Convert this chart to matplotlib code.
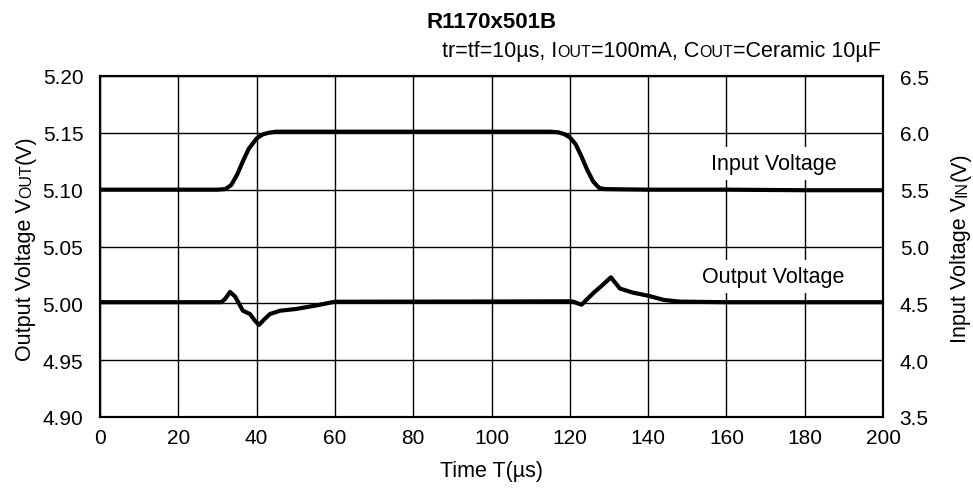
import numpy as np
import matplotlib.pyplot as plt
from matplotlib.transforms import IdentityTransform

plt.rcParams['font.family'] = ['Liberation Sans', 'DejaVu Sans']

# input voltage (right axis, V) vs time (us)
t_in = [0, 30, 32, 33.5, 35, 36.5, 38, 40, 41.5, 43, 45, 60, 80, 100, 115, 117,
        118.5, 120, 121.5, 123, 124.5, 126, 127.5, 129, 140, 160, 180, 200]
v_in = [5.50, 5.50, 5.505, 5.54, 5.63, 5.75, 5.86, 5.95, 5.985, 6.0, 6.01, 6.01,
        6.01, 6.01, 6.01, 6.005, 5.99, 5.96, 5.90, 5.79, 5.67, 5.57, 5.515, 5.505,
        5.50, 5.50, 5.495, 5.495]

# output voltage (left axis, V)
t_out = [0, 31, 32, 33.2, 34.5, 36.5, 38.3, 39.5, 40.6, 42, 43.4, 46, 50, 55, 60,
         80, 100, 120, 120.8, 123, 126, 128, 130.5, 132.8, 136, 140, 144, 148,
         160, 180, 200]
v_out = [5.001, 5.001, 5.004, 5.010, 5.006, 4.9935, 4.9906, 4.985, 4.981, 4.986,
         4.9906, 4.9935, 4.995, 4.998, 5.0014, 5.0015, 5.0016, 5.0018, 5.0015,
         4.9988, 5.009, 5.015, 5.0229, 5.013, 5.0095, 5.0067, 5.003, 5.0015,
         5.001, 5.001, 5.001]

x_ticks = np.arange(0, 201, 20)
left_ticks = [4.90, 4.95, 5.00, 5.05, 5.10, 5.15, 5.20]
right_ticks = [3.5, 4.0, 4.5, 5.0, 5.5, 6.0, 6.5]

W, H = 973, 489
fig = plt.figure(figsize=(W / 100, H / 100), dpi=100)
L, R, T, B = 100, 883, 77, 418
ax = fig.add_axes([L / W, (H - B) / H, (R - L) / W, (B - T) / H])
ax2 = ax.twinx()

ax.set_xlim(0, 200)
ax.set_ylim(4.90, 5.20)
ax2.set_ylim(3.5, 6.5)
ax.set_xticks(x_ticks)
ax.set_yticks(left_ticks)
ax.set_yticklabels(['%.2f' % v for v in left_ticks])
ax2.set_yticks(right_ticks)
ax2.set_yticklabels(['%.1f' % v for v in right_ticks])
ax.grid(True, color='black', linewidth=1.0)
ax.tick_params(length=0, labelsize=15, pad=12)
ax.tick_params(axis='x', pad=8)
ax2.tick_params(length=0, labelsize=15, pad=12)
for a in (ax, ax2):
    for s in a.spines.values():
        s.set_linewidth(1.5)

ax.plot(t_out, v_out, color='black', linewidth=3)
ax2.plot(t_in, v_in, color='black', linewidth=3, zorder=3)

bb = dict(facecolor='white', edgecolor='none', pad=4)
ax2.text(172, 5.682, 'Input Voltage', fontsize=15.5, ha='center',
         va='baseline', bbox=bb, zorder=2)
ax2.text(172, 4.688, 'Output Voltage', fontsize=15.5, ha='center',
         va='baseline', bbox=bb, zorder=2)

ax.set_xlabel('Time T(µs)', fontsize=15.5, labelpad=9)
fig.text((L + R) / 2 / W, 1 - 22 / H, 'R1170x501B', fontsize=16,
         fontweight='bold', ha='center', va='center')

renderer = fig.canvas.get_renderer()


def rich_text(x, y, parts, rotation=0, align='right'):
    # parts drawn one after another along the baseline, in figure pixels
    arts = []
    for s, size in parts:
        t = fig.text(0, 0, s, fontsize=size, rotation=rotation,
                     rotation_mode='anchor', ha='left', va='baseline',
                     transform=IdentityTransform())
        arts.append(t)
    lens = []
    for t in arts:
        e = t.get_window_extent(renderer)
        lens.append(e.width if rotation == 0 else e.height)
    total = sum(lens)
    pos = {'right': -total, 'center': -total / 2, 'left': 0}[align]
    for t, n in zip(arts, lens):
        if rotation == 0:
            t.set_position((x + pos, y))
        else:
            t.set_position((x, y + pos))
        pos += n


rich_text(R - 2, H - 57, [('tr=tf=10µs, I', 15.5), ('OUT', 11.5),
                          ('=100mA, C', 15.5), ('OUT', 11.5),
                          ('=Ceramic 10µF', 15.5)], align='right')
rich_text(31, H - 248, [('Output Voltage V', 15.5), ('OUT', 11.5),
                        ('(V)', 15.5)], rotation=90, align='center')
rich_text(966, H - 248, [('Input Voltage V', 15.5), ('IN', 11.5),
                         ('(V)', 15.5)], rotation=90, align='center')

fig.savefig('out.png', dpi=100)
